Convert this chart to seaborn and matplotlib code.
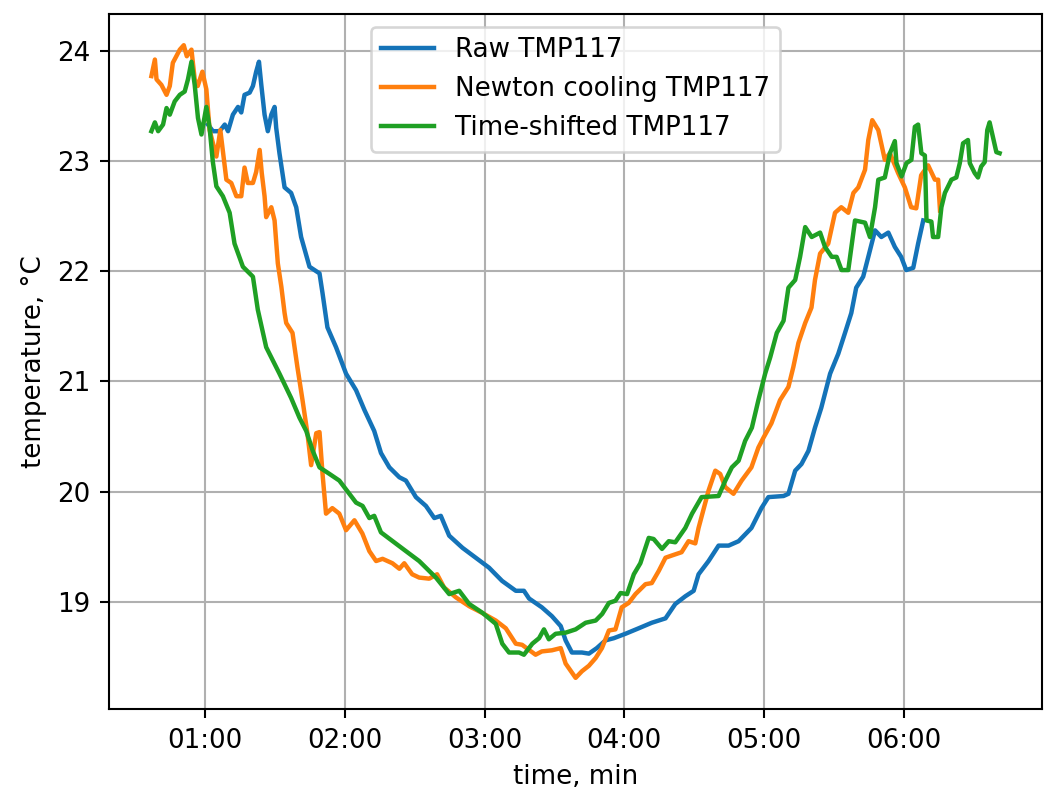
import matplotlib
matplotlib.use("Agg")
import matplotlib.pyplot as plt
from matplotlib.ticker import MultipleLocator, FuncFormatter
import seaborn as sns
import pandas as pd

# ---- data (time in seconds, temperature in °C) ----
raw_t = [61.2, 63.3, 66.2, 68.4, 69.8, 71.9, 74.1, 75.5, 76.9, 79.1, 80.5, 81.9, 83.1, 84.1,
         85.5, 86.9, 88.4, 89.8, 90.5, 91.9, 94.1, 96.9, 99.1, 101.2, 104.8, 109.1, 110.4,
         112.5, 116.2, 120.5, 124.8, 128.4, 132.6, 135.5, 139.1, 143.4, 146.2, 150.5, 154.8,
         158.4, 161.2, 164.8, 170.5, 176.2, 181.9, 187.5, 193.4, 196.9, 199.1, 204.6, 208.9,
         212.7, 214.8, 217.5, 221.8, 224.8, 228.2, 231.9, 235.5, 240.5, 246.2, 251.8, 257.7,
         261.9, 266.2, 269.8, 271.9, 276.2, 280.5, 284.8, 289.1, 294.6, 298.9, 301.9, 308.4,
         310.5, 313.4, 316.1, 319.1, 321.9, 324.6, 328.4, 331.9, 334.8, 337.5, 339.6, 342.6,
         344.8, 347.7, 350.4, 353.4, 356.2, 358.9, 361.1, 364.1, 366.2, 368.4]
raw_T = [23.33, 23.27, 23.27, 23.33, 23.27, 23.42, 23.49, 23.44, 23.60, 23.62, 23.68, 23.81,
         23.90, 23.69, 23.42, 23.27, 23.42, 23.49, 23.30, 23.07, 22.76, 22.71, 22.58, 22.31,
         22.04, 21.98, 21.80, 21.49, 21.31, 21.07, 20.92, 20.74, 20.55, 20.35, 20.22, 20.13,
         20.10, 19.95, 19.87, 19.76, 19.78, 19.60, 19.49, 19.40, 19.31, 19.19, 19.10, 19.10,
         19.03, 18.95, 18.87, 18.78, 18.65, 18.54, 18.54, 18.53, 18.58, 18.65, 18.67, 18.71,
         18.76, 18.81, 18.85, 18.98, 19.05, 19.10, 19.25, 19.37, 19.51, 19.51, 19.55, 19.67,
         19.85, 19.95, 19.96, 19.98, 20.19, 20.25, 20.37, 20.58, 20.76, 21.07, 21.25, 21.44,
         21.62, 21.85, 21.95, 22.13, 22.37, 22.31, 22.35, 22.22, 22.13, 22.01, 22.03, 22.25,
         22.46]

newton_t = [36.9, 38.4, 39.1, 41.2, 43.4, 44.8, 46.1, 49.1, 50.8, 52.1, 54.1, 55.5, 56.8,
            58.8, 60.5, 61.9, 64.8, 66.5, 69.1, 71.2, 73.4, 75.5, 76.9, 78.3, 80.5, 81.9,
            83.4, 84.3, 85.5, 86.2, 88.4, 89.8, 91.2, 92.7, 94.1, 94.8, 97.5, 99.6, 101.8,
            103.9, 105.5, 107.7, 109.1, 110.4, 111.9, 114.6, 117.6, 120.5, 124.1, 127.5,
            130.5, 133.4, 136.2, 140.4, 143.4, 145.5, 148.9, 151.9, 156.2, 159.6, 162.6,
            167.7, 173.4, 178.9, 184.8, 189.1, 193.4, 196.1, 201.9, 204.6, 208.9, 212.7,
            214.8, 219.1, 221.8, 224.8, 227.7, 230.4, 233.4, 236.2, 238.9, 241.9, 244.8,
            249.1, 251.8, 254.8, 257.7, 260.4, 264.6, 267.6, 270.5, 271.9, 276.2, 279.1,
            281.2, 283.4, 286.9, 290.4, 294.6, 297.6, 299.8, 303.2, 306.9, 310.5, 312.6,
            314.8, 317.7, 320.4, 321.9, 324.1, 327.6, 330.5, 333.2, 336.2, 338.4, 340.5,
            343.4, 344.8, 346.5, 349.1, 351.9, 354.1, 357.6, 360.5, 363.2, 365.4, 367.5,
            370.5, 373.4, 374.8, 375.6]
newton_T = [23.77, 23.92, 23.74, 23.69, 23.60, 23.68, 23.89, 24.01, 24.05, 23.95, 24.01,
            23.74, 23.68, 23.81, 23.65, 23.28, 23.04, 23.28, 22.83, 22.80, 22.68, 22.68,
            22.94, 22.80, 22.80, 22.90, 23.10, 22.89, 22.68, 22.49, 22.58, 22.46, 22.07,
            21.86, 21.62, 21.53, 21.44, 21.13, 20.83, 20.53, 20.24, 20.53, 20.54, 20.16,
            19.80, 19.85, 19.80, 19.65, 19.74, 19.62, 19.46, 19.37, 19.39, 19.35, 19.30,
            19.35, 19.25, 19.22, 19.21, 19.25, 19.13, 19.04, 18.96, 18.90, 18.83, 18.76,
            18.62, 18.61, 18.52, 18.55, 18.56, 18.58, 18.44, 18.31, 18.37, 18.42, 18.49,
            18.58, 18.74, 18.75, 18.95, 18.99, 19.07, 19.16, 19.17, 19.28, 19.40, 19.42,
            19.45, 19.55, 19.53, 19.67, 20.01, 20.19, 20.16, 20.04, 19.98, 20.10, 20.22,
            20.40, 20.49, 20.62, 20.83, 20.95, 21.13, 21.35, 21.53, 21.67, 21.92, 22.16,
            22.25, 22.53, 22.58, 22.53, 22.71, 22.76, 22.92, 23.19, 23.37, 23.28, 23.01,
            23.07, 22.89, 22.76, 22.58, 22.57, 22.87, 22.96, 22.83, 22.83, 22.55]

shifted_t = [36.9, 38.4, 39.8, 41.9, 43.4, 44.8, 46.9, 49.1, 51.2, 52.6, 54.1, 55.5, 56.9,
             58.4, 60.5, 61.9, 63.3, 64.8, 67.6, 70.5, 72.6, 76.2, 80.5, 82.6, 86.2, 91.9,
             96.9, 100.5, 103.4, 106.2, 109.1, 113.4, 117.6, 121.9, 124.8, 127.6, 130.5,
             132.6, 135.5, 140.5, 146.2, 151.9, 159.1, 164.8, 169.1, 173.4, 179.1, 184.8,
             187.6, 190.5, 194.8, 196.9, 200.5, 203.4, 205.5, 207.6, 210.5, 214.8, 219.1,
             223.4, 227.7, 230.5, 233.4, 236.2, 238.4, 241.2, 244.1, 246.9, 250.5, 252.6,
             256.2, 259.1, 261.9, 266.2, 269.1, 273.2, 280.5, 283.4, 286.2, 289.1, 291.9,
             294.8, 297.6, 300.5, 302.7, 305.5, 308.4, 310.5, 313.4, 315.5, 317.7, 320.5,
             324.1, 326.2, 329.1, 331.2, 333.3, 336.2, 339.1, 343.4, 345.5, 347.7, 349.1,
             351.9, 354.1, 356.2, 356.9, 359.1, 361.2, 363.3, 364.8, 366.2, 367.6, 369.1,
             369.8, 371.9, 372.6, 374.8, 376.2, 377.7, 380.5, 382.6, 384.1, 385.5, 387.6,
             388.4, 390.5, 391.9, 393.3, 394.8, 395.9, 396.9, 398.4, 399.8, 401.2]
shifted_T = [23.27, 23.35, 23.27, 23.33, 23.48, 23.42, 23.54, 23.60, 23.63, 23.74, 23.90,
             23.69, 23.39, 23.24, 23.49, 23.30, 22.99, 22.77, 22.68, 22.53, 22.25, 22.04,
             21.95, 21.65, 21.31, 21.07, 20.85, 20.67, 20.55, 20.37, 20.22, 20.16, 20.10,
             19.98, 19.90, 19.87, 19.76, 19.78, 19.63, 19.55, 19.46, 19.37, 19.22, 19.07,
             19.10, 18.98, 18.90, 18.80, 18.62, 18.54, 18.54, 18.52, 18.62, 18.67, 18.75,
             18.66, 18.71, 18.72, 18.75, 18.81, 18.83, 18.89, 18.99, 19.01, 19.08, 19.07,
             19.25, 19.35, 19.58, 19.57, 19.48, 19.55, 19.54, 19.67, 19.80, 19.95, 19.96,
             20.10, 20.22, 20.28, 20.46, 20.58, 20.83, 21.07, 21.22, 21.44, 21.55, 21.85,
             21.92, 22.13, 22.40, 22.31, 22.35, 22.22, 22.13, 22.13, 22.01, 22.01, 22.46,
             22.44, 22.31, 22.58, 22.83, 22.85, 23.07, 23.18, 22.98, 22.86, 22.98, 23.01,
             23.31, 23.33, 23.07, 23.05, 22.46, 22.45, 22.31, 22.31, 22.58, 22.71, 22.83,
             22.85, 22.98, 23.16, 23.19, 22.98, 22.89, 22.85, 22.95, 22.99, 23.28, 23.35,
             23.21, 23.08, 23.07]

series_names = ["Raw TMP117", "Newton cooling TMP117", "Time-shifted TMP117"]
series_colors = ["#1473b8", "#ff7f0e", "#1fa024"]

frames = []
for name, t, T in zip(series_names, [raw_t, newton_t, shifted_t], [raw_T, newton_T, shifted_T]):
    frames.append(pd.DataFrame({"time": t, "temp": T, "series": name}))
df = pd.concat(frames, ignore_index=True)

fig = plt.figure(figsize=(1048 / 188, 790 / 188), dpi=188)
ax = fig.add_axes([0.104, 0.1019, 0.9943 - 0.104, 0.9828 - 0.1019])

sns.lineplot(data=df, x="time", y="temp", hue="series", hue_order=series_names,
             palette=series_colors, estimator=None, sort=False,
             linewidth=1.7, ax=ax)

ax.grid(True, color="#b0b0b0", linewidth=0.8)
ax.set_axisbelow(True)
ax.xaxis.set_major_locator(MultipleLocator(60))
ax.xaxis.set_major_formatter(FuncFormatter(lambda v, p: f"{int(v // 60):02d}:{int(round(v % 60)):02d}"))
ax.set_xlabel("time, min", fontsize=10)
ax.set_ylabel("temperature, °C", fontsize=10)
ax.tick_params(labelsize=10)
handles, labels = ax.get_legend_handles_labels()
ax.legend(handles, labels, loc="upper center", fontsize=10)

fig.savefig("out.png", dpi=188)
